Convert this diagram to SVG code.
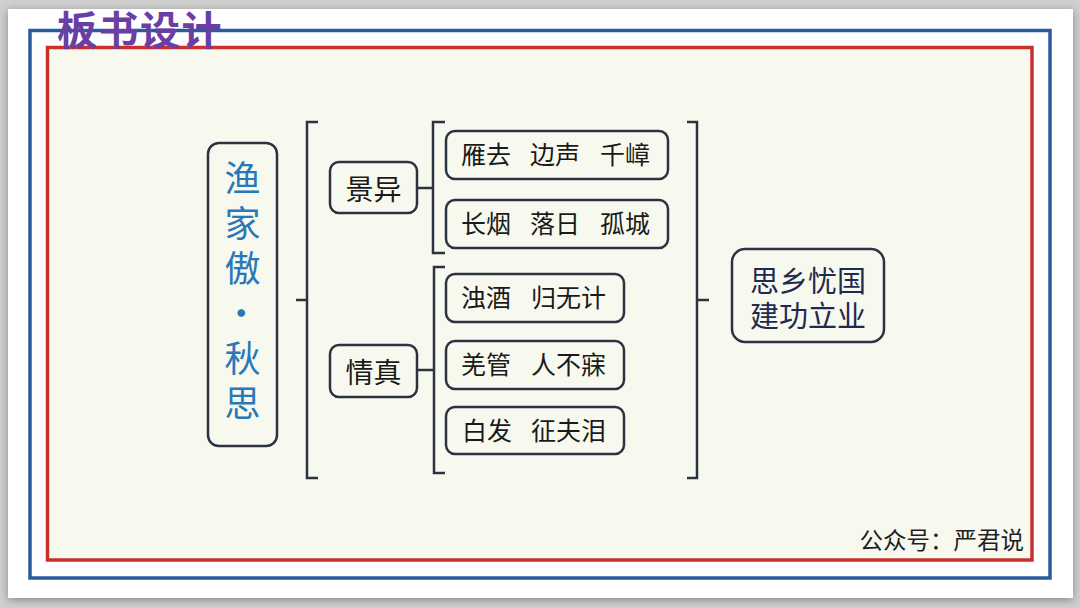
<svg xmlns="http://www.w3.org/2000/svg" width="1080" height="608" viewBox="0 0 1080 608">
<defs>
<filter id="sh" x="-5%" y="-5%" width="110%" height="110%">
<feGaussianBlur in="SourceAlpha" stdDeviation="4"/>
<feOffset dx="0" dy="2" result="b"/>
<feFlood flood-color="#000" flood-opacity="0.35"/>
<feComposite in2="b" operator="in"/>
<feMerge><feMergeNode/><feMergeNode in="SourceGraphic"/></feMerge>
</filter>
<style>
text{font-family:"Noto Sans CJK SC","Noto Sans",sans-serif;}
.box{fill:#f8f9ee;stroke:#2b3340;stroke-width:2.5;}
.br{fill:none;stroke:#2b3340;stroke-width:2.5;stroke-linejoin:miter;}
.item{font-size:25px;fill:#1a1a1a;}
.mid{font-size:28px;fill:#1a1a1a;text-anchor:middle;dominant-baseline:central;}
.v{font-size:36px;fill:#2a78b8;writing-mode:vertical-rl;letter-spacing:9px;}
.r{font-size:29px;fill:#1e2a52;text-anchor:middle;dominant-baseline:central;}
</style>
</defs>
<rect x="0" y="0" width="1080" height="608" fill="#cfcfcf"/>
<rect x="8" y="9" width="1065" height="589" fill="#ffffff" filter="url(#sh)"/>
<rect x="30" y="30.5" width="1020" height="547.5" fill="none" stroke="#2a5b9c" stroke-width="3.5"/>
<rect x="47.5" y="47.5" width="984.5" height="512.5" fill="#f8f9ee" stroke="#c9302c" stroke-width="3.5"/>
<text x="57" y="45" font-size="40" font-weight="bold" fill="#6b3ea3" letter-spacing="1.5">板书设计</text>

<g id="connectors">
<path class="br" d="M318,122 H307 V478 H318 M307,300 H296"/>
<path class="br" d="M445,122 H433 V253 H445 M433,188 H417"/>
<path class="br" d="M445,267 H434 V473 H445 M434,370 H417"/>
<path class="br" d="M687,122 H697 V478 H687 M697,300 H709"/>
</g>

<g id="node-title">
<rect class="box" x="208" y="143" width="69" height="303" rx="11"/>
<text class="v" x="242.5" y="160">渔家傲·秋思</text>
</g>

<g id="node-jingyi">
<rect class="box" x="330" y="162" width="87" height="51" rx="9"/>
<text class="mid" x="373.5" y="187.5">景异</text>
</g>
<g id="node-qingzhen">
<rect class="box" x="330" y="345" width="87" height="52" rx="9"/>
<text class="mid" x="373.5" y="371">情真</text>
</g>

<g id="node-i1">
<rect class="box" x="446" y="131" width="222" height="48" rx="9"/>
<text class="item" y="164"><tspan x="461">雁去</tspan><tspan x="530">边声</tspan><tspan x="600">千嶂</tspan></text>
</g>
<g id="node-i2">
<rect class="box" x="446" y="200" width="222" height="48" rx="9"/>
<text class="item" y="233"><tspan x="461">长烟</tspan><tspan x="530">落日</tspan><tspan x="600">孤城</tspan></text>
</g>
<g id="node-i3">
<rect class="box" x="446" y="274" width="178" height="48" rx="9"/>
<text class="item" y="307"><tspan x="461">浊酒</tspan><tspan x="531">归无计</tspan></text>
</g>
<g id="node-i4">
<rect class="box" x="446" y="341" width="178" height="48" rx="9"/>
<text class="item" y="374"><tspan x="461">羌管</tspan><tspan x="531">人不寐</tspan></text>
</g>
<g id="node-i5">
<rect class="box" x="446" y="407" width="178" height="47" rx="9"/>
<text class="item" y="440"><tspan x="462">白发</tspan><tspan x="531">征夫泪</tspan></text>
</g>

<g id="node-theme">
<rect class="box" x="732" y="249" width="152" height="93" rx="13"/>
<text class="r"><tspan x="808" y="279">思乡忧国</tspan><tspan x="808" y="314">建功立业</tspan></text>
</g>

<text x="1024" y="549" font-size="23.5" fill="#1f1f1f" text-anchor="end">公众号：严君说</text>
</svg>
